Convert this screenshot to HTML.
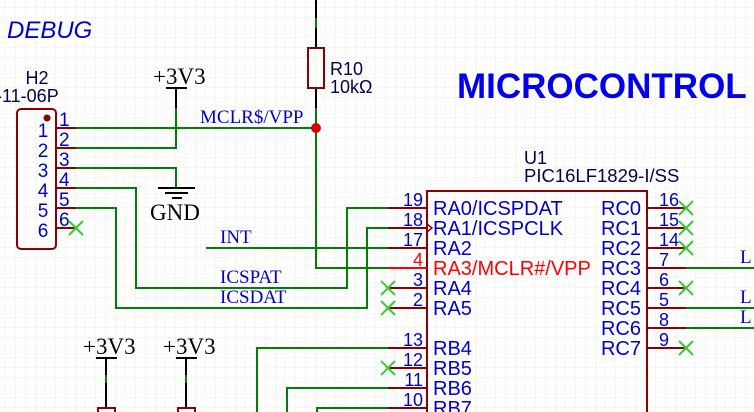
<!DOCTYPE html>
<html><head><meta charset="utf-8"><style>
html,body{margin:0;padding:0;background:#fff;}
svg{display:block;}
.s{font-family:"Liberation Sans",sans-serif;}
.r{font-family:"Liberation Serif",serif;}
</style></head><body>
<svg width="754" height="412" viewBox="0 0 754 412" xmlns="http://www.w3.org/2000/svg">
<defs>
<pattern id="g" width="10" height="10" patternUnits="userSpaceOnUse" x="6" y="8">
<path d="M10 0V10M0 10H10" fill="none" stroke="#ececec" stroke-width="1"/>
</pattern>
</defs>
<rect width="754" height="412" fill="url(#g)"/>

<g stroke="#008000" stroke-width="2" fill="none">
<path d="M76 128H316"/>
<path d="M76 148H176V108"/>
<path d="M76 168H176V188"/>
<path d="M76 188H136V288H347V208H388"/>
<path d="M76 208H116V308H367V228H388"/>
<path d="M316 108V268H388"/>
<path d="M206 248H388"/>
<path d="M316 18V28"/>
<path d="M686 268H754M686 308H754M686 328H754"/>
<path d="M388 348H257V412M388 388H287V412M388 408H317V412"/>
</g>
<g stroke="#000" stroke-width="2" fill="none">
<path d="M176 88V108"/>
<path d="M316 0V18M316 28V48M316 88V108"/>
<path d="M106 358V375M106 383V408M186 358V375M186 383V408"/>
<path d="M166 88H187M96 358H117M176 358H197"/>
<path d="M158 188H195M165 193H188M172 198H182"/>
</g>
<g stroke="#008000" stroke-width="2"><path d="M106 375V383M186 375V383"/></g>
<circle cx="316" cy="128" r="5" fill="#d00"/>

<rect x="308" y="48" width="16" height="40" fill="none" stroke="#8b0000" stroke-width="2"/>
<rect x="98" y="408" width="17" height="10" fill="none" stroke="#8b0000" stroke-width="2"/>
<rect x="178" y="408" width="17" height="10" fill="none" stroke="#8b0000" stroke-width="2"/>

<rect x="17" y="109" width="39" height="140" rx="4" fill="none" stroke="#8b0000" stroke-width="2"/>
<circle cx="47" cy="118" r="3.5" fill="#8b0000"/>
<g stroke="#8b0000" stroke-width="2">
<path d="M56 128H76M56 148H76M56 168H76M56 188H76M56 208H76M56 228H76"/>
</g>
<g class="s" fill="#00c" font-size="19">
<text x="43" y="137" text-anchor="middle">1</text><text x="43" y="157" text-anchor="middle">2</text><text x="43" y="177" text-anchor="middle">3</text><text x="43" y="197" text-anchor="middle">4</text><text x="43" y="217" text-anchor="middle">5</text><text x="43" y="237" text-anchor="middle">6</text>
<text x="59" y="126">1</text><text x="59" y="146">2</text><text x="59" y="166">3</text><text x="59" y="186">4</text><text x="59" y="206">5</text><text x="59" y="226">6</text>
</g>
<text class="s" x="37" y="84" font-size="18" fill="#000050" text-anchor="middle">H2</text>
<text class="s" x="-4" y="102" font-size="18" fill="#000050">-11-06P</text>

<rect x="427" y="191" width="220" height="230" fill="none" stroke="#8b0000" stroke-width="2"/>
<path d="M427 224L432 228L427 232" fill="none" stroke="#8b0000" stroke-width="1.5"/>
<g stroke="#8b0000" stroke-width="2">
<path d="M388 208H427M388 228H427M388 248H427M388 288H427M388 308H427M388 348H427M388 368H427M388 388H427M388 408H427"/>
<path d="M647 208H686M647 228H686M647 248H686M647 268H686M647 288H686M647 308H686M647 328H686M647 348H686"/>
</g>
<path d="M388 268H427" stroke="#f00" stroke-width="2"/>
<g class="s" fill="#00c" font-size="18" text-anchor="end">
<text x="423" y="206">19</text><text x="423" y="226">18</text><text x="423" y="246">17</text><text x="423" y="266" fill="#f00">4</text><text x="423" y="286">3</text><text x="423" y="306">2</text><text x="423" y="346">13</text><text x="423" y="366">12</text><text x="423" y="386">11</text><text x="423" y="406">10</text>
</g>
<g class="s" fill="#00c" font-size="18">
<text x="659" y="206">16</text><text x="659" y="226">15</text><text x="659" y="246">14</text><text x="659" y="266">7</text><text x="659" y="286">6</text><text x="659" y="306">5</text><text x="659" y="326">8</text><text x="659" y="346">9</text>
</g>
<g class="s" fill="#00c" font-size="20">
<text x="433" y="215">RA0/ICSPDAT</text><text x="433" y="235">RA1/ICSPCLK</text><text x="433" y="255">RA2</text><text x="433" y="275" fill="#f00">RA3/MCLR#/VPP</text><text x="433" y="295">RA4</text><text x="433" y="315">RA5</text>
<text x="433" y="355">RB4</text><text x="433" y="375">RB5</text><text x="433" y="395">RB6</text><text x="433" y="415">RB7</text>
</g>
<g class="s" fill="#00c" font-size="20" text-anchor="end">
<text x="641" y="215">RC0</text><text x="641" y="235">RC1</text><text x="641" y="255">RC2</text><text x="641" y="275">RC3</text><text x="641" y="295">RC4</text><text x="641" y="315">RC5</text><text x="641" y="335">RC6</text><text x="641" y="355">RC7</text>
</g>
<text class="s" x="524" y="164" font-size="18" fill="#000050">U1</text>
<text class="s" x="524" y="182" font-size="18.5" fill="#000050">PIC16LF1829-I/SS</text>

<g stroke="#3c3" stroke-width="2">
<path d="M69 221L83 235M83 221L69 235"/>
<path d="M381 281L395 295M395 281L381 295M381 301L395 315M395 301L381 315M381 361L395 375M395 361L381 375"/>
<path d="M679 201L693 215M693 201L679 215M679 221L693 235M693 221L679 235M679 241L693 255M693 241L679 255M679 281L693 295M693 281L679 295M679 341L693 355M693 341L679 355"/>
</g>

<g class="r" fill="#00c" font-size="19">
<text x="200" y="123">MCLR$/VPP</text>
<text x="220" y="243">INT</text>
<text x="220" y="283">ICSPAT</text>
<text x="220" y="303">ICSDAT</text>
<text x="740" y="263">L</text><text x="740" y="303">L</text><text x="740" y="323">L</text>
</g>
<g class="r" fill="#000" font-size="23">
<text x="153" y="84">+3V3</text>
<text x="83" y="354">+3V3</text>
<text x="163" y="354">+3V3</text>
<text x="150" y="220">GND</text>
</g>
<text class="s" x="330" y="75" font-size="18" fill="#000050">R10</text>
<text class="s" x="330" y="93" font-size="18" fill="#000050">10kΩ</text>
<text class="s" x="7" y="38" font-size="24" font-style="italic" fill="#00c">DEBUG</text>
<text class="s" x="457" y="98" font-size="35" font-weight="bold" fill="#00e">MICROCONTROL</text>
</svg>
</body></html>
